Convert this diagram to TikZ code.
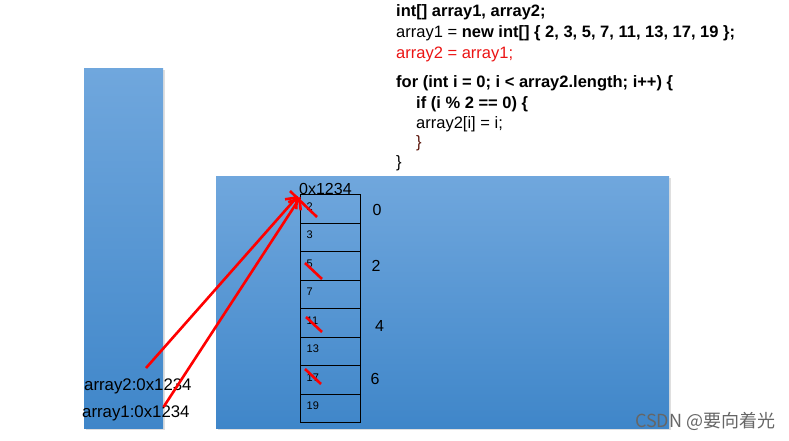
\documentclass[tikz,border=0pt]{standalone}
\usepackage{fontspec}
\setmainfont{Liberation Sans}
\newfontfamily\cjkfont{Noto Sans CJK SC}
\usetikzlibrary{arrows.meta,shadows}
\definecolor{boxtop}{RGB}{112,167,221}
\definecolor{boxbot}{RGB}{63,134,201}
\definecolor{codered}{RGB}{235,20,20}
\definecolor{darkbrace}{RGB}{90,20,10}
\tikzset{
  membox/.style={draw=none,top color=boxtop,bottom color=boxbot,
    drop shadow={shadow xshift=1.5pt,shadow yshift=-1.5pt,opacity=0.25}},
  codeline/.style={anchor=base west,inner sep=0pt,font=\fontsize{16.5}{18}\selectfont},
  cell/.style={draw=black,line width=0.8pt,minimum width=60pt,minimum height=28.5pt,inner sep=0pt},
  cellnum/.style={anchor=base west,inner sep=0pt,font=\fontsize{11}{13}\selectfont},
  idx/.style={anchor=base west,inner sep=0pt,font=\fontsize{16}{18}\selectfont},
  lbl/.style={anchor=base west,inner sep=0pt,font=\fontsize{16.8}{18}\selectfont},
  refarrow/.style={draw=red,line width=2.6pt,-{Straight Barb[length=9pt,width=15pt,line width=2.6pt]}},
  slash/.style={draw=red,line width=2.6pt},
}
\begin{document}
\begin{tikzpicture}[x=1pt,y=-1pt]
\useasboundingbox (0,0) rectangle (789,440);
% memory areas
\node[membox,minimum width=79pt,minimum height=360pt,inner sep=0pt,anchor=north west] (stack) at (84,68) {};
\node[membox,minimum width=453pt,minimum height=252pt,inner sep=0pt,anchor=north west] (heap) at (216,176) {};
% code
\node[codeline] (c1) at (396,16) {\bfseries int[] array1, array2;};
\node[codeline] (c2) at (396,37) {array1 = \textbf{new int[] \{ 2, 3, 5, 7, 11, 13, 17, 19 \};}};
\node[codeline,text=codered] (c3) at (396,58) {array2 = array1;};
\node[codeline] (c4) at (396,87) {\bfseries for (int i = 0; i < array2.length; i++) \{};
\node[codeline] (c5) at (416,108) {\bfseries if (i \% 2 == 0) \{};
\node[codeline] (c6) at (416,128) {array2[i] = i;};
\node[codeline,text=darkbrace] (c7) at (416,147) {\}};
\node[codeline] (c8) at (396,167) {\}};
% array cells
\foreach \v [count=\i from 0] in {2,3,5,7,11,13,17,19}{
  \node[cell,anchor=north west] (cell\i) at (300,{194.3+28.5*\i}) {};
  \node[cellnum] (num\i) at (306.5,{210+28.5*\i}) {\v};
}
\node[anchor=base west,inner sep=0pt,font=\fontsize{16}{18}\selectfont] (addr) at (299,194) {0x1234};
\node[idx] (i0) at (372.5,215.7) {0};
\node[idx] (i2) at (371.5,271) {2};
\node[idx] (i4) at (375,331.7) {4};
\node[idx] (i6) at (370.5,384) {6};
% stack labels
\node[lbl] (a2) at (84,390) {array2:0x1234};
\node[lbl] (a1) at (82,417) {array1:0x1234};
% references
\coordinate (s2) at (146,368);
\coordinate (s1) at (163.5,407);
\coordinate (t2) at (298,196);
\coordinate (t1) at (300.5,197);
\draw[refarrow] (s2) -- (t2);
\draw[refarrow] (s1) -- (t1);
% crossed-out values
\coordinate (x0a) at (290,191); \coordinate (x0b) at (317,217);
\coordinate (x2a) at (305,263); \coordinate (x2b) at (322,279);
\coordinate (x4a) at (306,317); \coordinate (x4b) at (322,332);
\coordinate (x6a) at (305,369); \coordinate (x6b) at (321,384);
\draw[slash] (x0a) -- (x0b);
\draw[slash] (x2a) -- (x2b);
\draw[slash] (x4a) -- (x4b);
\draw[slash] (x6a) -- (x6b);
% watermark
\node[anchor=base west,inner sep=0pt,text=black!60,font=\cjkfont\fontsize{18}{20}\selectfont] (wm) at (635,427) {CSDN @要向着光};
\end{tikzpicture}
\end{document}
